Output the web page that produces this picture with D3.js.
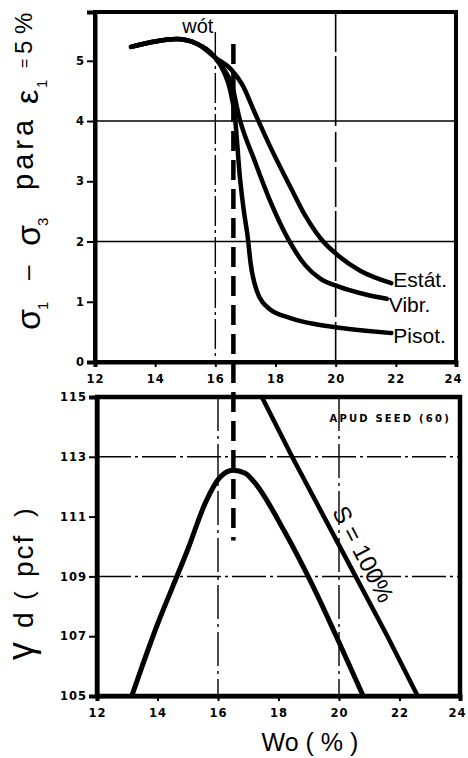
<!DOCTYPE html>
<html><head><meta charset="utf-8">
<script src="https://cdn.jsdelivr.net/npm/d3@7/dist/d3.min.js"></script>
<style>body{margin:0;background:#fff}svg{display:block}</style>
</head><body><svg id="c" width="468" height="758"></svg>
<script>
// ---------- data ----------
const xTicks = [12, 14, 16, 18, 20, 22, 24];
const stressTicks = [0, 1, 2, 3, 4, 5];
const densityTicks = [105, 107, 109, 111, 113, 115];
const commonStart = [[13.2,5.23],[14.0,5.32],[14.7,5.36],[15.4,5.28],[16.0,5.05]];
const estat = [[16.5,4.87],[16.9,4.6],[17.3,4.15],[17.8,3.6],[18.5,2.9],[19.0,2.42],[19.5,2.05],[20.1,1.76],[20.8,1.52],[21.85,1.31]];
const vibr  = [[16.3,4.85],[16.55,4.6],[16.8,4.05],[17.3,3.35],[17.8,2.7],[18.4,2.06],[19.0,1.6],[19.5,1.38],[20.1,1.25],[21.0,1.12],[21.7,1.05]];
const pisot = [[16.3,4.8],[16.5,4.5],[16.65,4.07],[16.82,3.05],[16.95,2.5],[17.08,2.06],[17.17,1.65],[17.38,1.18],[17.8,0.88],[18.5,0.73],[19.3,0.63],[20.1,0.57],[21.0,0.52],[21.85,0.48]];
const seriesNames = ["Estát.", "Vibr.", "Pisot."];
const compaction = [[13.15,105],[14.0,107.4],[14.5,108.65],[15.0,109.9],[15.6,111.5],[16.05,112.3],[16.5,112.55],[16.9,112.45],[17.2,112.15],[18.2,110.5],[19.15,108.65],[20.0,106.8],[20.8,105]];
const zeroAirVoids = [[17.45,115],[18.45,113],[19.5,111],[20.55,109],[21.6,107],[22.6,105]];
const wot = 16.6;
const wotDashEnd = 110.2;
const stressGrid = [2, 4];
const densityGrid = [109, 113];
const xGrid = [16, 20];

// ---------- scales ----------
const svg = d3.select("#c");
const xTop = d3.scaleLinear().domain([12, 24]).range([95, 456]);
const yTop = d3.scaleLinear().domain([0, 5.81]).range([362, 12]);
const xBot = d3.scaleLinear().domain([12, 24]).range([97, 460]);
const yBot = d3.scaleLinear().domain([105, 115]).range([696, 397]);

const FONT = "'Liberation Sans Narrow','Liberation Sans',Arial,sans-serif";
const SANS = "'Liberation Sans',Arial,sans-serif";
const TICKFONT = "'DejaVu Sans',sans-serif";

// ---------- top panel ----------
const gT = svg.append("g");
gT.selectAll(".hg").data(stressGrid).join("line")
  .attr("x1", xTop(12)).attr("x2", xTop(24))
  .attr("y1", d => yTop(d)).attr("y2", d => yTop(d))
  .attr("stroke", "#000").attr("stroke-width", 1.6);
gT.append("line").attr("x1", xTop(20)).attr("x2", xTop(20))
  .attr("y1", yTop(5.81)).attr("y2", yTop(0))
  .attr("stroke", "#000").attr("stroke-width", 1.6).attr("stroke-dasharray", "40,4,70,6,30,5");
gT.append("line").attr("x1", xTop(16)).attr("x2", xTop(16))
  .attr("y1", 32).attr("y2", yTop(0))
  .attr("stroke", "#000").attr("stroke-width", 1.4).attr("stroke-dasharray", "30,4,3,4");
const axTopX = d3.axisBottom(xTop).tickValues(xTicks).tickSize(5).tickFormat(d3.format("d"));
const axTopY = d3.axisLeft(yTop).tickValues(stressTicks).tickSize(8).tickFormat(d3.format("d"));
const gx1 = gT.append("g").attr("transform", `translate(0,${yTop(0)})`).call(axTopX);
const gy1 = gT.append("g").attr("transform", `translate(${xTop(12)},0)`).call(axTopY);
gT.append("rect").attr("x", xTop(12)).attr("y", yTop(5.81))
  .attr("width", xTop(24) - xTop(12)).attr("height", yTop(0) - yTop(5.81))
  .attr("fill", "none").attr("stroke", "#000").attr("stroke-width", 4);
const lineTop = d3.line().x(d => xTop(d[0])).y(d => yTop(d[1])).curve(d3.curveMonotoneX);
const topSeries = [commonStart.concat(estat), commonStart.concat(vibr), commonStart.concat(pisot)];
gT.selectAll(".cv").data(topSeries).join("path")
  .attr("d", lineTop).attr("fill", "none").attr("stroke", "#000")
  .attr("stroke-width", 4.5).attr("stroke-linecap", "round").attr("stroke-linejoin", "round");
const labelDy = [4, 13, 10];
gT.selectAll(".lb").data(topSeries).join("text")
  .attr("x", d => xTop(d[d.length - 1][0]) + 2)
  .attr("y", (d, i) => yTop(d[d.length - 1][1]) + labelDy[i])
  .text((d, i) => seriesNames[i])
  .attr("font-family", FONT).attr("font-size", 21).attr("fill", "#000");
gT.append("text").attr("x", xTop(16) - 2).attr("y", 33).attr("text-anchor", "end")
  .attr("font-family", FONT).attr("font-size", 20).text("wót");

// ---------- bottom panel ----------
const gB = svg.append("g");
gB.selectAll(".hg").data(densityGrid).join("line")
  .attr("x1", xBot(12)).attr("x2", xBot(24))
  .attr("y1", d => yBot(d)).attr("y2", d => yBot(d))
  .attr("stroke", "#000").attr("stroke-width", 1.5).attr("stroke-dasharray", "34,4,3,4");
gB.selectAll(".vg").data(xGrid).join("line")
  .attr("x1", d => xBot(d)).attr("x2", d => xBot(d))
  .attr("y1", yBot(115)).attr("y2", yBot(105))
  .attr("stroke", "#000").attr("stroke-width", 1.4).attr("stroke-dasharray", "34,5,3,5");
const axBotX = d3.axisBottom(xBot).tickValues(xTicks).tickSize(5).tickFormat(d3.format("d"));
const axBotY = d3.axisLeft(yBot).tickValues(densityTicks).tickSize(8).tickFormat(d3.format("d"));
const gx2 = gB.append("g").attr("transform", `translate(0,${yBot(105)})`).call(axBotX);
const gy2 = gB.append("g").attr("transform", `translate(${xBot(12)},0)`).call(axBotY);
gB.append("rect").attr("x", xBot(12)).attr("y", yBot(115))
  .attr("width", xBot(24) - xBot(12)).attr("height", yBot(105) - yBot(115))
  .attr("fill", "none").attr("stroke", "#000").attr("stroke-width", 4.5);
const lineBot = d3.line().x(d => xBot(d[0])).y(d => yBot(d[1])).curve(d3.curveMonotoneX);
gB.append("path").datum(compaction).attr("d", lineBot)
  .attr("fill", "none").attr("stroke", "#000").attr("stroke-width", 5).attr("stroke-linejoin", "round");
gB.append("path").datum(zeroAirVoids).attr("d", d3.line().x(d => xBot(d[0])).y(d => yBot(d[1])))
  .attr("fill", "none").attr("stroke", "#000").attr("stroke-width", 4.5);
// S = 100% label along the line
const p0 = [xBot(zeroAirVoids[0][0]), yBot(zeroAirVoids[0][1])];
const p1 = [xBot(zeroAirVoids[zeroAirVoids.length - 1][0]), yBot(zeroAirVoids[zeroAirVoids.length - 1][1])];
const ang = Math.atan2(p1[1] - p0[1], p1[0] - p0[0]) * 180 / Math.PI;
const tLab = 0.552;
const foot = [p0[0] + tLab * (p1[0] - p0[0]), p0[1] + tLab * (p1[1] - p0[1])];
gB.append("text").attr("transform", `translate(${foot[0]},${foot[1]}) rotate(${ang})`)
  .attr("text-anchor", "middle").attr("y", -9)
  .attr("font-family", SANS).attr("font-size", 24).text("S = 100%");
gB.append("text").attr("x", xBot(23.7)).attr("y", yBot(114.15)).attr("text-anchor", "end")
  .attr("font-family", TICKFONT).attr("font-weight", "bold").attr("font-size", 10)
  .attr("letter-spacing", 2.2).text("APUD  SEED (60)");

// wot thick dashed line spanning both panels
svg.append("line").attr("x1", xTop(wot)).attr("x2", xTop(wot))
  .attr("y1", 44).attr("y2", yBot(wotDashEnd))
  .attr("stroke", "#000").attr("stroke-width", 4.5).attr("stroke-dasharray", "20,9");

// axis styling
[gx1, gy1, gx2, gy2].forEach(g => {
  g.select(".domain").attr("stroke-width", 4);
  g.selectAll(".tick line").attr("stroke-width", 2);
  g.selectAll(".tick text").attr("font-family", TICKFONT).attr("font-weight", "bold")
    .attr("font-size", 11.5).attr("letter-spacing", 1).attr("fill", "#000");
});
[gx1, gx2].forEach(g => {
  g.selectAll(".tick text").attr("dy", "1.1em");
  g.selectAll(".tick text").filter(d => d === 24).attr("x", -3);
});
[gy1, gy2].forEach(g => g.selectAll(".tick text").attr("x", -10));

// ---------- axis titles ----------
const t1 = svg.append("text").attr("transform", `translate(40,330) rotate(-90)`)
  .attr("font-family", SANS).attr("fill", "#000");
const t1parts = [
  {t: "σ", x: 0, y: 0, s: 34},
  {t: "1", x: 20, y: 8, s: 15},
  {t: "–", x: 50, y: -4, s: 26},
  {t: "σ", x: 84, y: 0, s: 34},
  {t: "3", x: 104, y: 8, s: 15},
  {t: "para", x: 140, y: -7, s: 29, ls: 4},
  {t: "ε", x: 226, y: -2, s: 32},
  {t: "1", x: 242, y: 7, s: 15},
  {t: "=", x: 262, y: -10, s: 16},
  {t: "5", x: 276, y: -8, s: 24},
  {t: "%", x: 296, y: -8, s: 24}
];
t1.selectAll("tspan").data(t1parts).join("tspan")
  .attr("x", d => d.x).attr("y", d => d.y).attr("font-size", d => d.s)
  .attr("letter-spacing", d => d.ls || 0).text(d => d.t);

const t2 = svg.append("text").attr("transform", `translate(33,660) rotate(-90)`)
  .attr("font-family", SANS).attr("fill", "#000");
const t2parts = [
  {t: "γ", x: 0, y: 0, s: 36},
  {t: "d", x: 32, y: 0, s: 28},
  {t: "(", x: 60, y: 0, s: 26},
  {t: "pcf", x: 83, y: 0, s: 28, ls: 2},
  {t: ")", x: 143, y: 0, s: 26}
];
t2.selectAll("tspan").data(t2parts).join("tspan")
  .attr("x", d => d.x).attr("y", d => d.y).attr("font-size", d => d.s)
  .attr("letter-spacing", d => d.ls || 0).text(d => d.t);

svg.append("text").attr("x", 310).attr("y", 751).attr("text-anchor", "middle")
  .attr("font-family", FONT).attr("font-size", 25).text("Wo  ( % )");
</script></body></html>
